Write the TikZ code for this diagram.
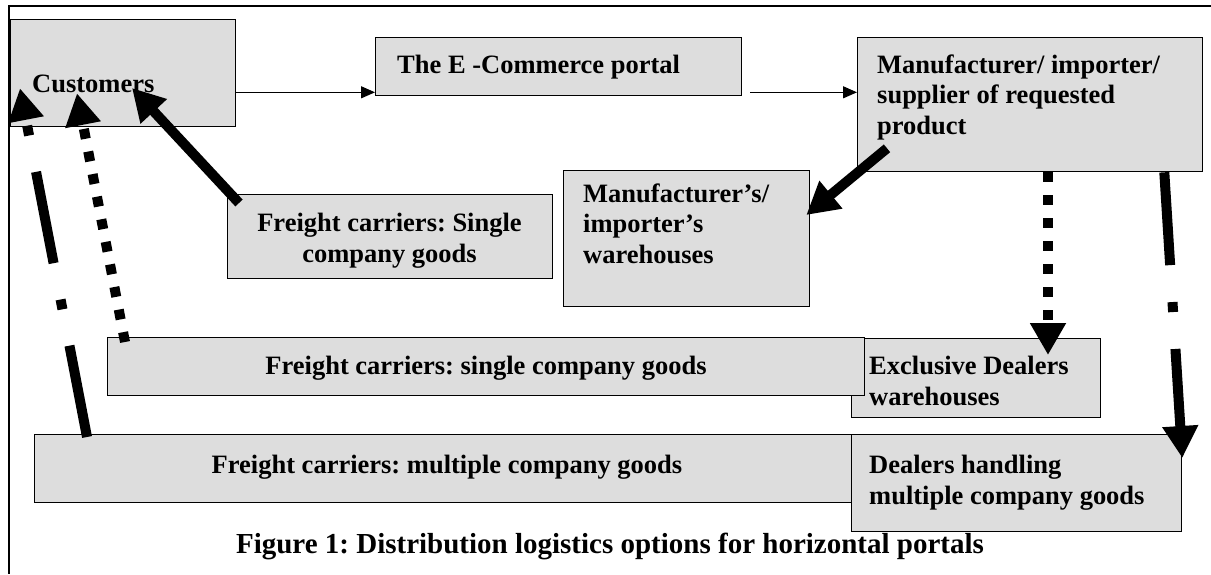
\documentclass[tikz,border=0pt]{standalone}
\usepackage{fontspec}
\setmainfont{Liberation Serif}
\usetikzlibrary{arrows.meta,calc}
\frenchspacing
\definecolor{boxgray}{RGB}{221,221,221}
\tikzset{
  box/.style={draw=black, fill=boxgray, line width=1.3pt, rectangle, inner sep=0pt, anchor=north west},
  lbl/.style={inner sep=0pt, font=\fontsize{26.5}{30.5}\selectfont\bfseries, text=black},
  thinarrow/.style={line width=1.2pt, -{Triangle[length=14pt,width=12pt]}},
  heavy/.style={line width=10pt, -{Triangle[length=32pt,width=34pt]}},
  dotflow/.style={heavy, dash pattern=on 10pt off 13pt},
  dashdotflow/.style={heavy, dash pattern=on 93pt off 37pt on 10pt off 37pt},
}
\begin{document}
\begin{tikzpicture}[x=1pt,y=-1pt]
\useasboundingbox (0,0) rectangle (1211,574);
% outer frame
\draw[line width=1.5pt] (1211,6) -- (9,6) -- (9,574);

% boxes
\node[box, minimum width=225pt, minimum height=107pt] (cust) at (10,19) {};
\node[box, minimum width=366pt, minimum height=58pt] (portal) at (375,37) {};
\node[box, minimum width=345pt, minimum height=134pt] (manu) at (857,37) {};
\node[box, minimum width=246pt, minimum height=136pt] (whouse) at (563,170) {};
\node[box, minimum width=325pt, minimum height=84pt] (fcsingle) at (227,194) {};
\node[box, minimum width=249pt, minimum height=79pt] (excl) at (851,338) {};
\node[box, minimum width=757pt, minimum height=58pt] (fclong) at (107,337) {};
\node[box, minimum width=817pt, minimum height=68pt] (fcmulti) at (34,434) {};
\node[box, minimum width=330pt, minimum height=97pt] (dealers) at (851,434) {};

% box texts (multi-line nodes are placed by the baseline of their last line)
\node[lbl, anchor=base west] (custT) at (32,92) {Customers};
\node[lbl, anchor=base west] (portalT) at (397,73) {The E -Commerce portal};
\node[lbl, anchor=base west, align=left] (manuT) at (877,134)
  {Manufacturer/ importer/\\supplier of requested\\product};
\node[lbl, anchor=base west, align=left] (whouseT) at (583,263)
  {Manufacturer’s/\\importer’s\\warehouses};
\node[lbl, anchor=base, align=center] (fcsingleT) at (389.5,262)
  {Freight carriers: Single\\company goods};
\node[lbl, anchor=base] (fclongT) at (486,374) {Freight carriers: single company goods};
\node[lbl, anchor=base west, align=left] (exclT) at (869,405)
  {Exclusive Dealers\\warehouses};
\node[lbl, anchor=base] (fcmultiT) at (447,473) {Freight carriers: multiple company goods};
\node[lbl, anchor=base west, align=left] (dealersT) at (869,504)
  {Dealers handling\\multiple company goods};

% caption
\node[inner sep=0pt, anchor=base, font=\fontsize{29}{34}\selectfont\bfseries] (caption) at (610,553)
  {Figure 1: Distribution logistics options for horizontal portals};

% order flow
\draw[thinarrow] ($(cust.east |- portal.south)+(0,-4)$) -- ($(portal.south west)+(0,-4)$);
\draw[thinarrow] ($(portal.south east)+(8,-4)$) -- ($(manu.west |- portal.south)+(0,-4)$);

% goods flow
\draw[heavy] ($(fcsingle.north west)+(12,9)$) -- ($(cust.north west)+(122,69)$);
\draw[heavy] ($(manu.south west)+(30,-24)$) -- ($(whouse.north east)+(-4,45)$);
\draw[dotflow] ($(manu.south west)+(191,0)$) -- ($(excl.north west)+(197,17)$);
\draw[dotflow] ($(fclong.north west)+(18,5)$) -- ($(cust.south west)+(67,-34)$);
\draw[dashdotflow] ($(fcmulti.north west)+(53,3)$) -- ($(cust.south west)+(10,-39)$);
\draw[dashdotflow] ($(manu.south east)+(-39,0)$) -- ($(dealers.north east)+(0,24)$);
\end{tikzpicture}
\end{document}
